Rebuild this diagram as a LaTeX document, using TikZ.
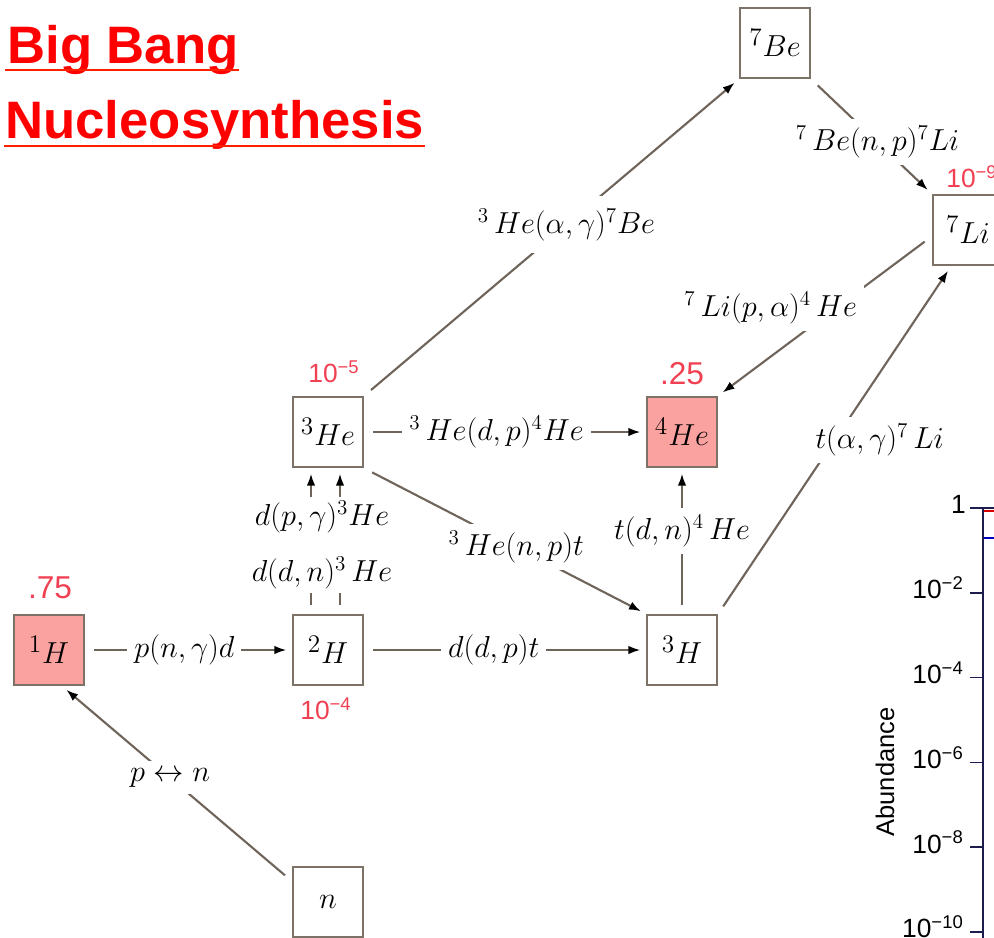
\documentclass[tikz,border=0pt]{standalone}
\usepackage[no-math]{fontspec}
\setmainfont{Liberation Serif}
\setsansfont{Liberation Sans}
\usetikzlibrary{arrows.meta,calc}

\definecolor{boxedge}{RGB}{125,114,104}
\definecolor{flowline}{RGB}{110,100,90}
\definecolor{hotpink}{RGB}{250,162,160}
\definecolor{abundred}{RGB}{240,64,82}
\definecolor{titlered}{RGB}{255,0,0}
\definecolor{axisblue}{RGB}{28,28,78}

\begin{document}
\begin{tikzpicture}[x=0.02cm,y=-0.02cm,>=Latex,
  nuc/.style={draw=boxedge,line width=1.5pt,fill=white,minimum width=1.4cm,minimum height=1.4cm,inner sep=0pt,font=\fontsize{19}{22}\selectfont},
  hot/.style={nuc,fill=hotpink},
  rxn/.style={fill=white,inner sep=4pt,font=\fontsize{18}{22}\selectfont},
  flow/.style={draw=flowline,line width=1.2pt,-{Latex[length=2.4mm,width=1.7mm,color=black]},shorten >=3pt,shorten <=5pt},
  abund/.style={text=abundred,font=\sffamily\fontsize{15}{18}\selectfont,inner sep=0pt},
  bigabund/.style={abund,font=\sffamily\fontsize{18}{21}\selectfont},
  title/.style={text=titlered,font=\sffamily\bfseries\fontsize{30}{36}\selectfont,inner sep=0pt,anchor=base west},
  titleline/.style={draw={rgb,255:red,255;green,32;blue,0},line width=1.7pt},
  ticklab/.style={anchor=east,inner sep=0pt,font=\sffamily\fontsize{15}{18}\selectfont}]
\useasboundingbox (0,0) rectangle (994,937);
\clip (0,0) rectangle (994,937);

% title
\node[title] (bigbang) at (7,63) {Big Bang};
\node[title] (nucleo) at (5,138) {Nucleosynthesis};
\draw[titleline] ($(bigbang.base west)+(-2,7)$) -- ($(bigbang.base east)+(0,7)$);
\draw[titleline] ($(nucleo.base west)+(-1,8)$) -- ($(nucleo.base east)+(0,8)$);

% nuclei
\node[hot] (h1) at (49,650) {$^1H$};
\node[nuc] (h2) at (328,650) {$^2H$};
\node[nuc] (h3) at (682,650) {$^3H$};
\node[nuc] (neut) at (328,902) {$n$};
\node[nuc] (he3) at (328,432) {$^3He$};
\node[hot] (he4) at (682,432) {$^4He$};
\node[nuc] (be7) at (775,43) {$^7Be$};
\node[nuc] (li7) at (968,230) {$^7Li$};

% abundances
\node[bigabund] (ab1) at (50,588) {.75};
\node[abund] (ab2) at (326,709) {10\textsuperscript{−4}};
\node[abund] (ab3) at (334,372) {10\textsuperscript{−5}};
\node[bigabund] (ab4) at (682,374) {.25};
\node[abund,anchor=west] (ab7) at (946,177) {10\textsuperscript{−9}};

% reactions
\draw[flow] (neut.150) -- node[rxn,pos=0.53]{$p\leftrightarrow n$} (h1.-70);
\draw[flow] (h1) -- node[rxn,pos=0.48]{$p(n,\gamma)d$} (h2);
\draw[flow] (h2) -- node[rxn,pos=0.46]{$d(d,p)t$} (h3);
\draw[flow] ($(h2.north)+(-17,0)$) -- ($(he3.south)+(-17,0)$);
\draw[flow] ($(h2.north)+(12,0)$) -- ($(he3.south)+(12,0)$);
\node[rxn,align=center,inner sep=2pt] (dlab) at (322,545) {$d(p,\gamma)^3He$\\[10pt]$d(d,n)^3\,He$};
\draw[flow] (he3) -- node[rxn,pos=0.47]{$^3\,He(d,p)^4He$} (he4);
\draw[flow] (he3.south east) -- node[rxn,pos=0.54]{$^3\,He(n,p)t$} (h3.north west);
\draw[flow] (h3) -- node[rxn,pos=0.57]{$t(d,n)^4\,He$} (he4);
\draw[flow] (he3.north east) -- node[rxn,pos=0.54,inner sep=7pt]{$^3\,He(\alpha,\gamma)^7Be$} (be7.south west);
\draw[flow] (be7.south east) -- node[rxn,pos=0.55]{$^7\,Be(n,p)^7Li$} (li7.north west);
\draw[flow] (li7.190) -- node[rxn,pos=0.45,xshift=-1.3cm]{$^7\,Li(p,\alpha)^4\,He$} (he4.north east);
\draw[flow] (h3.north east) -- node[rxn,pos=0.5,xshift=0.9cm]{$t(\alpha,\gamma)^7\,Li$} (li7.-115);

% abundance plot (cut at the edge)
\draw[axisblue,line width=1.1pt] (970,508) -- (994,508);
\draw[red!85!black,line width=1.3pt] (984,511) -- (994,511);
\draw[blue!75!black,line width=1.1pt] (984,538) -- (994,538);
\draw[axisblue,line width=1.1pt] (983,508) -- (983,945);
\node[ticklab] (t0) at (966,504) {1};
\foreach \k in {1,...,5}{
  \pgfmathtruncatemacro{\ex}{2*\k}
  \draw[axisblue,line width=1pt] (970,508+84.8*\k) -- (983,508+84.8*\k);
  \node[ticklab] (t\k) at (964,503+84.8*\k) {10\textsuperscript{−\ex}};
}
\node[rotate=90,inner sep=0pt,font=\sffamily\fontsize{14.5}{17}\selectfont] (abtitle) at (885,772) {Abundance};
\end{tikzpicture}
\end{document}
